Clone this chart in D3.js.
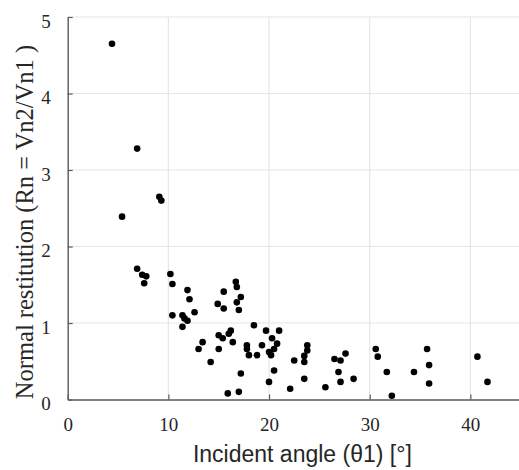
<!DOCTYPE html>
<html lang="en">
<head>
<meta charset="utf-8">
<title>Normal restitution</title>
<script src="https://d3js.org/d3.v7.min.js"></script>
<style>
  body { margin: 0; background: #fff; }
  .tick text { font-family: "Liberation Serif", "Times New Roman", serif; }
</style>
</head>
<body>
<div id="chart"></div>
<script>

// incident angle (deg) and normal restitution
var angle = [4.4, 6.9, 5.4, 9.1, 9.3, 6.9, 7.4, 7.8, 7.6,
  10.2, 10.4, 11.9, 12.1, 10.4, 11.4, 11.6, 11.9, 12.6, 11.4,
  13.4, 13.0, 14.2, 14.9, 15.5, 15.5, 16.7, 16.8, 17.2, 16.8, 17.0,
  15.0, 15.4, 16.0, 16.2, 16.4, 15.0, 18.5, 17.8, 17.8, 18.0, 18.8,
  19.3, 19.7, 20.3, 20.8, 21.0, 20.5, 20.0, 20.2, 17.2, 20.5, 20.0,
  15.9, 17.0, 22.1, 22.5, 23.5, 23.5, 23.8, 23.8, 23.5, 25.6,
  26.5, 27.1, 27.6, 26.9, 27.1, 28.4, 30.6, 30.8, 31.7, 32.2,
  34.4, 35.7, 35.9, 35.9, 40.7, 41.7];
var restitution = [4.65, 3.28, 2.39, 2.65, 2.60, 1.71, 1.63, 1.61, 1.52,
  1.64, 1.51, 1.43, 1.31, 1.10, 1.10, 1.06, 1.03, 1.14, 0.95,
  0.75, 0.66, 0.49, 1.25, 1.41, 1.19, 1.54, 1.47, 1.34, 1.27, 1.17,
  0.84, 0.80, 0.86, 0.90, 0.75, 0.66, 0.97, 0.71, 0.66, 0.58, 0.58,
  0.71, 0.90, 0.80, 0.73, 0.90, 0.66, 0.62, 0.58, 0.34, 0.38, 0.23,
  0.08, 0.10, 0.14, 0.51, 0.49, 0.57, 0.64, 0.71, 0.27, 0.16,
  0.53, 0.51, 0.60, 0.36, 0.23, 0.27, 0.66, 0.56, 0.36, 0.05,
  0.36, 0.66, 0.45, 0.21, 0.56, 0.23];

var xTicks = [0, 10, 20, 30, 40];
var yTicks = [0, 1, 2, 3, 4, 5];

var W = 519, H = 470;
var plotLeft = 67.7, plotTop = 17, plotBottom = 399.5;

var svg = d3.select("#chart").append("svg")
  .attr("width", W)
  .attr("height", H);

var x = d3.scaleLinear().domain([0, 45]).range([plotLeft, plotLeft + 453]);
var y = d3.scaleLinear().domain([0, 5]).range([plotBottom, plotTop]);

// grid
svg.append("g").selectAll("line.gx")
  .data(xTicks.slice(1))
  .enter().append("line")
    .attr("x1", function(d) { return x(d); })
    .attr("x2", function(d) { return x(d); })
    .attr("y1", y(0)).attr("y2", y(5))
    .attr("stroke", "#e6e6e6").attr("stroke-width", 1.2);
svg.append("g").selectAll("line.gy")
  .data(yTicks.slice(1))
  .enter().append("line")
    .attr("x1", x(0)).attr("x2", W)
    .attr("y1", function(d) { return y(d); })
    .attr("y2", function(d) { return y(d); })
    .attr("stroke", "#e6e6e6").attr("stroke-width", 1.2);

// axes, ticks pointing inward
var xAxis = svg.append("g")
  .attr("transform", "translate(0," + y(0) + ")")
  .call(d3.axisBottom(x).tickValues(xTicks).tickFormat(d3.format("d"))
    .tickSizeInner(-5).tickSizeOuter(0).tickPadding(14));
var yAxis = svg.append("g")
  .attr("transform", "translate(" + x(0) + ",0)")
  .call(d3.axisLeft(y).tickValues(yTicks).tickFormat(d3.format("d"))
    .tickSizeInner(-5).tickSizeOuter(0).tickPadding(17));

[xAxis, yAxis].forEach(function(a) {
  a.select(".domain").attr("stroke", "#5a5a5a").attr("stroke-width", 1.4);
  a.selectAll(".tick line").attr("stroke", "#5a5a5a").attr("stroke-width", 1.2);
  a.selectAll(".tick text").attr("fill", "#262626").style("font-size", "19px");
});
yAxis.selectAll(".tick text").attr("dy", "0.55em");
xAxis.selectAll(".tick text").attr("dy", "0.9em");

// points
svg.append("g").selectAll("circle")
  .data(angle)
  .enter().append("circle")
    .attr("cx", function(d) { return x(d); })
    .attr("cy", function(d, i) { return y(restitution[i]); })
    .attr("r", 3.3)
    .attr("fill", "#000");

// labels
svg.append("text")
  .attr("x", (x(0) + W) / 2 + 9)
  .attr("y", 462)
  .attr("text-anchor", "middle")
  .style("font-family", "'Liberation Sans', Arial, sans-serif")
  .style("font-size", "23px")
  .attr("fill", "#262626")
  .text("Incident angle (\u03b81) [\u00b0]");

svg.append("text")
  .attr("transform", "translate(33," + 222 + ") rotate(-90)")
  .attr("text-anchor", "middle")
  .style("font-family", "'Liberation Serif', 'Times New Roman', serif")
  .style("font-size", "24.5px")
  .attr("fill", "#262626")
  .text("Normal restitution (Rn = Vn2/Vn1 )");

</script>
</body>
</html>
